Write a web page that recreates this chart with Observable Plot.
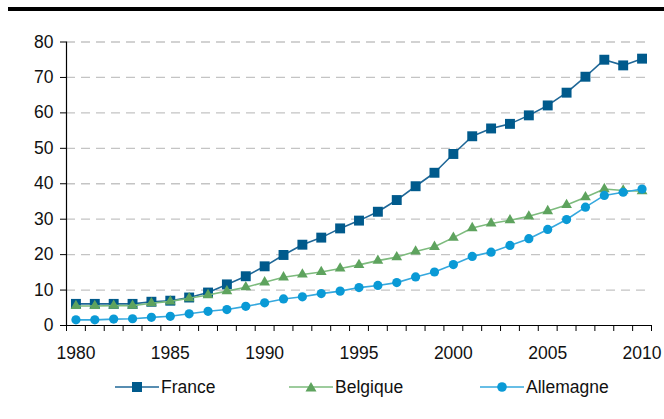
<!DOCTYPE html>
<html>
<head>
<meta charset="utf-8">
<script src="https://cdn.jsdelivr.net/npm/d3@7"></script>
<script src="https://cdn.jsdelivr.net/npm/@observablehq/plot@0.6"></script>
<style>
  body { margin: 0; background: #fff; font-family: "Liberation Sans", Arial, sans-serif; }
  #wrap { position: relative; width: 664px; height: 419px; overflow: hidden; }
  #topline { position: absolute; left: 8px; right: 0; top: 7px; height: 4px; background: #000; }
  #chart { position: absolute; left: 0; top: 0; }
  .item { position: absolute; top: 376px; height: 22px; display: flex; align-items: center; font-size: 17.5px; color: #111; }
  .item svg { margin-right: 2px; }
</style>
</head>
<body>
<div id="wrap">
  <div id="chart"></div>
  <div id="topline"></div>
  <div id="legend"></div>
</div>
<script>
const years = [1980, 1981, 1982, 1983, 1984, 1985, 1986, 1987, 1988, 1989,
               1990, 1991, 1992, 1993, 1994, 1995, 1996, 1997, 1998, 1999,
               2000, 2001, 2002, 2003, 2004, 2005, 2006, 2007, 2008, 2009, 2010];

const france = [6.1, 6.1, 6.1, 6.1, 6.7, 7.0, 7.9, 9.3, 11.6, 13.9,
                16.7, 19.9, 22.8, 24.8, 27.4, 29.6, 32.1, 35.4, 39.3, 43.1,
                48.4, 53.4, 55.6, 56.9, 59.3, 62.1, 65.7, 70.2, 75.0, 73.4, 75.3];

const belgique = [5.5, 5.5, 5.6, 5.6, 6.3, 6.8, 7.7, 8.6, 9.7, 10.8,
                  12.2, 13.6, 14.4, 15.1, 16.1, 17.1, 18.3, 19.3, 20.9, 22.2,
                  24.8, 27.5, 28.8, 29.7, 30.8, 32.3, 34.0, 36.2, 38.5, 38.1, 37.9];

const allemagne = [1.6, 1.6, 1.8, 1.9, 2.3, 2.6, 3.3, 4.0, 4.5, 5.4,
                   6.4, 7.5, 8.1, 9.0, 9.7, 10.7, 11.3, 12.1, 13.7, 15.1,
                   17.2, 19.5, 20.7, 22.6, 24.5, 27.1, 29.9, 33.4, 36.7, 37.6, 38.5];

const xLabels = [1980, 1985, 1990, 1995, 2000, 2005, 2010];
const yTicks = [0, 10, 20, 30, 40, 50, 60, 70, 80];

// category style x axis: ticks between the years
const bounds = years.map(y => y - 0.5).concat([years[years.length - 1] + 0.5]);

const series = [
  { name: "France", values: france, line: "#1f6797", fill: "#005a8c", symbol: "square", r: 5.6 },
  { name: "Belgique", values: belgique, line: "#7dbb7d", fill: "#5ea35e", symbol: "triangle", r: 4 },
  { name: "Allemagne", values: allemagne, line: "#35a8de", fill: "#0a9ad6", symbol: "circle", r: 4.6 }
];

const rows = series.flatMap(s => years.map((yr, i) => ({ serie: s.name, year: yr, value: s.values[i] })));

const marks = [
  Plot.gridY(yTicks.filter(d => d > 0), { stroke: "#c4c4c4", strokeOpacity: 1, strokeWidth: 1.3, strokeDasharray: "9,6" }),
  Plot.ruleY([0], { stroke: "#000", strokeWidth: 1.2 }),
  Plot.ruleX([bounds[0]], { y1: 0, y2: 80, stroke: "#000", strokeWidth: 1.2 }),
  Plot.axisY({ ticks: yTicks, tickSize: 6, tickPadding: 7, stroke: "#000", fill: "#111" }),
  Plot.axisX({ ticks: bounds, tickSize: 6, tickFormat: () => "", stroke: "#000" }),
  Plot.axisX({ ticks: xLabels, tickSize: 0, tickPadding: 21, tickFormat: d => String(d), fill: "#111" })
];

series.forEach(s => {
  const d = rows.filter(r => r.serie === s.name);
  marks.push(Plot.line(d, { x: "year", y: "value", stroke: s.line, strokeWidth: 1.6 }));
  marks.push(Plot.dot(d, { x: "year", y: "value", symbol: s.symbol, r: s.r, fill: s.fill, stroke: "none" }));
});

const chart = Plot.plot({
  width: 664,
  height: 365,
  marginTop: 41.5,
  marginBottom: 40,
  marginLeft: 66,
  marginRight: 13,
  x: { domain: [bounds[0], bounds[bounds.length - 1]], label: null },
  y: { domain: [0, 80], label: null },
  style: { fontFamily: "'Liberation Sans', Arial, sans-serif", fontSize: "17.5px", color: "#111", background: "#fff" },
  marks
});

document.getElementById("chart").append(chart);

// legend
const legendLeft = [115, 289, 480];
const legend = document.getElementById("legend");
series.forEach((s, i) => {
  const item = document.createElement("div");
  item.className = "item";
  item.style.left = legendLeft[i] + "px";
  let sym;
  if (s.symbol === "square") sym = `<rect x="17" y="6" width="10" height="10" fill="${s.fill}"/>`;
  else if (s.symbol === "triangle") sym = `<path d="M22,6 L27.5,15.5 L16.5,15.5 Z" fill="${s.fill}"/>`;
  else sym = `<circle cx="22" cy="11" r="4.8" fill="${s.fill}"/>`;
  item.innerHTML = `<svg width="44" height="22"><line x1="0" x2="44" y1="11" y2="11" stroke="${s.line}" stroke-width="1.6"/>${sym}</svg><span>${s.name}</span>`;
  legend.append(item);
});
</script>
</body>
</html>
